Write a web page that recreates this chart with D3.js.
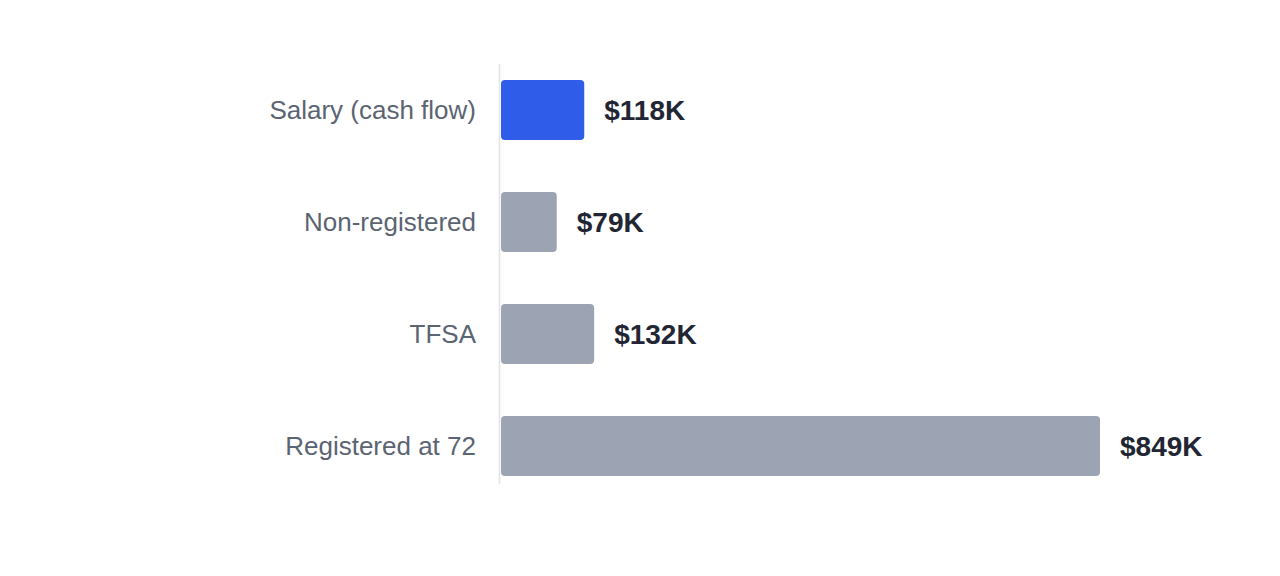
<!DOCTYPE html>
<html>
<head>
<meta charset="utf-8">
<script src="https://cdn.jsdelivr.net/npm/d3@7"></script>
<style>
  html, body { margin: 0; padding: 0; background: #fff; }
  svg { display: block; font-family: "Liberation Sans", Arial, Helvetica, sans-serif; }
</style>
</head>
<body>
<script>
// data
var categories = ['Salary (cash flow)', 'Non-registered', 'TFSA', 'Registered at 72']
var values = [118, 79, 132, 849]
var valueLabels = ['$118K', '$79K', '$132K', '$849K']
var highlight = [true, false, false, false]

var width = 1280, height = 576
var margin = { left: 500, right: 180, top: 64, bottom: 92 }

var svg = d3.select('body').append('svg')
    .attr('width', width)
    .attr('height', height)

var x = d3.scaleLinear()
    .domain([0, d3.max(values)])
    .range([margin.left + 1, width - margin.right])

// step 112, bar 60
var y = d3.scaleBand()
    .domain(categories)
    .range([margin.top + 16, margin.top + 412])
    .paddingInner(52 / 112)
    .paddingOuter(0)

var rows = categories.map(function (c, i) {
    return { cat: c, value: values[i], label: valueLabels[i], hi: highlight[i] }
})

// baseline
svg.append('line')
    .attr('x1', margin.left - 0.5).attr('x2', margin.left - 0.5)
    .attr('y1', margin.top).attr('y2', height - margin.bottom)
    .attr('stroke', '#e2e4e8')
    .attr('stroke-width', 1.5)

// bars
svg.selectAll('rect.bar').data(rows).enter().append('rect')
    .attr('class', 'bar')
    .attr('x', x(0))
    .attr('y', function (d) { return y(d.cat) })
    .attr('width', function (d) { return x(d.value) - x(0) })
    .attr('height', y.bandwidth())
    .attr('rx', 4).attr('ry', 4)
    .attr('fill', function (d) { return d.hi ? '#2f5ce9' : '#9ca4b4' })

// category labels
svg.selectAll('text.cat').data(rows).enter().append('text')
    .attr('class', 'cat')
    .attr('x', margin.left - 24)
    .attr('y', function (d) { return y(d.cat) + y.bandwidth() / 2 })
    .attr('dy', '0.35em')
    .attr('text-anchor', 'end')
    .attr('font-size', 26)
    .attr('fill', '#5b6472')
    .text(function (d) { return d.cat })

// value labels
svg.selectAll('text.val').data(rows).enter().append('text')
    .attr('class', 'val')
    .attr('x', function (d) { return x(d.value) + 20 })
    .attr('y', function (d) { return y(d.cat) + y.bandwidth() / 2 })
    .attr('dy', '0.35em')
    .attr('font-size', 28)
    .attr('font-weight', 'bold')
    .attr('fill', '#222634')
    .text(function (d) { return d.label })
</script>
</body>
</html>
